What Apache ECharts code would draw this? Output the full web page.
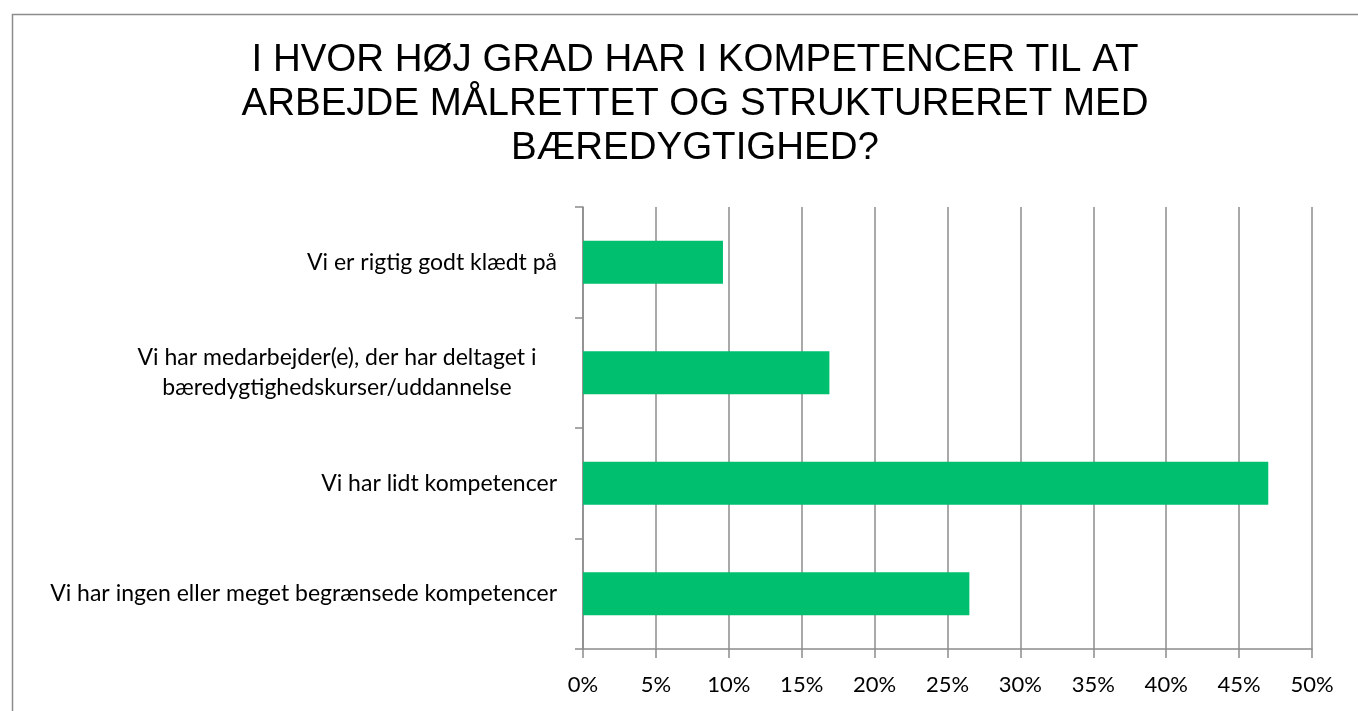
<!DOCTYPE html>
<html>
<head>
<meta charset="utf-8">
<script src="https://cdn.jsdelivr.net/npm/echarts@6/dist/echarts.min.js"></script>
<style>html,body{margin:0;padding:0;background:#fff;}#c{width:1358px;height:711px;}</style>
</head>
<body>
<div id="c"></div>
<script>
const titleText = 'I HVOR HØJ GRAD HAR I KOMPETENCER TIL AT\nARBEJDE MÅLRETTET OG STRUKTURERET MED\nBÆREDYGTIGHED?';
const categories = [
  'Vi er rigtig godt klædt på',
  'Vi har medarbejder(e), der har deltaget i\nbæredygtighedskurser/uddannelse',
  'Vi har lidt kompetencer',
  'Vi har ingen eller meget begrænsede kompetencer'
];
const values = [9.6, 16.9, 47.0, 26.5];
const xTicks = [0, 5, 10, 15, 20, 25, 30, 35, 40, 45, 50];

const chart = echarts.init(document.getElementById('c'));
const labelFont = 'Lato, "Open Sans", sans-serif';
chart.setOption({
  animation: false,
  title: {
    text: titleText,
    left: 690, top: 33, textAlign: 'center',
    textStyle: {fontFamily: '"Liberation Sans", Arial, sans-serif', fontSize: 38.5, fontWeight: 'normal', color: '#000', lineHeight: 44}
  },
  graphic: [{
    type: 'rect', left: 10, top: 12, shape: {width: 1400, height: 800},
    style: {fill: 'none', stroke: '#8c8c8c', lineWidth: 1.5}, silent: true, z: 100
  }],
  grid: {left: 583, right: 46, top: 207, bottom: 62},
  xAxis: {
    type: 'value', min: 0, max: 50, interval: 5,
    axisLine: {show: true, lineStyle: {color: '#8c8c8c', width: 1.5}},
    axisTick: {show: true, length: 9, lineStyle: {color: '#8c8c8c', width: 1.5}},
    splitLine: {show: true, lineStyle: {color: '#8c8c8c', width: 1.5}},
    axisLabel: {formatter: v => v + '%', color: '#000', fontSize: 22, fontFamily: labelFont, margin: 25}
  },
  yAxis: {
    type: 'category', data: categories, inverse: true,
    axisLine: {show: true, lineStyle: {color: '#8c8c8c', width: 1.5}},
    axisTick: {show: true, length: 8, lineStyle: {color: '#8c8c8c', width: 1.5}},
    axisLabel: {
      color: '#000', fontSize: 23, fontFamily: labelFont, margin: 26, lineHeight: 30,
      formatter: (v) => v.indexOf('\n') >= 0 ? v.split('\n').map(s => '{c|' + s + '}').join('\n') : v,
      rich: {c: {width: 440, align: 'center', fontSize: 23, fontFamily: labelFont, color: '#000', lineHeight: 30}}
    }
  },
  series: [{
    type: 'bar', data: values, barWidth: 43,
    itemStyle: {color: '#00BF6F'}
  }]
});
</script>
</body>
</html>
